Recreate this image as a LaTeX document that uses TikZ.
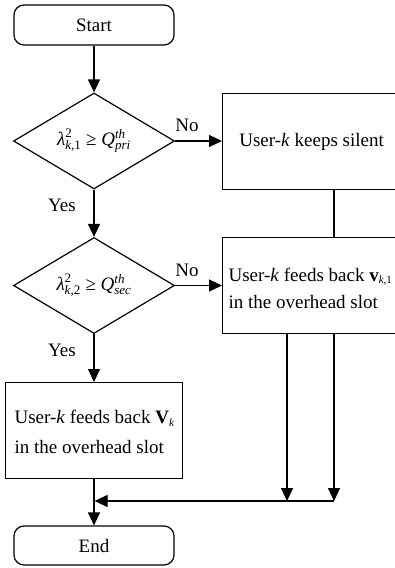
\documentclass[tikz,border=0pt]{standalone}
\usepackage{fontspec}
\setmainfont{Liberation Serif}
\usetikzlibrary{shapes.geometric,arrows.meta}
\newcommand{\smsz}{\fontsize{13}{13}\selectfont}
\newcommand{\tinsz}{\fontsize{11}{11}\selectfont}
\begin{document}
\begin{tikzpicture}[x=1pt,y=-1pt,
  line width=1.2pt,
  every node/.style={font=\fontsize{19}{22}\selectfont},
  arr/.style={-{Triangle[length=13pt,width=12pt]}},
  term/.style={draw, rounded corners=10pt, minimum width=160pt, minimum height=40pt, inner sep=0pt},
  dec/.style={draw, diamond, minimum width=161pt, minimum height=96pt, inner sep=0pt},
  proc/.style={draw, rectangle, inner sep=0pt, anchor=north west},
  lbl/.style={inner sep=0pt}]
\useasboundingbox (0,0) rectangle (395,568);
\clip (0,0) rectangle (395,568);

% nodes
\node[term] (start) at (94,25) {Start};
\node[dec] (d1) at (94,141) {};
\node[lbl] (t1) at (d1.center) {$\mbox{\itshape λ}^{\mbox{\smsz 2}}_{\mbox{\smsz\itshape k\upshape ,1}}$ ≥ $\mbox{\itshape Q}^{\mbox{\smsz\itshape th}}_{\mbox{\smsz\itshape pri}}$};
\node[dec] (d2) at (94,285.5) {};
\node[lbl] (t2) at (d2.center) {$\mbox{\itshape λ}^{\mbox{\smsz 2}}_{\mbox{\smsz\itshape k\upshape ,2}}$ ≥ $\mbox{\itshape Q}^{\mbox{\smsz\itshape th}}_{\mbox{\smsz\itshape sec}}$};

\node[proc, minimum width=178pt, minimum height=96pt] (b1) at (222,93) {};
\node[lbl] (t3) at (b1.center) {User-\textit{k} keeps silent};
\node[proc, minimum width=178pt, minimum height=96pt] (b2) at (222,237) {};
\node[lbl, anchor=west, align=left, font=\fontsize{19}{27}\selectfont] (t4) at (228,288) {User-\textit{k} feeds back \textbf{v}$_{\mbox{\tinsz\itshape k\upshape ,1}}$\\in the overhead slot};
\node[proc, minimum width=177pt, minimum height=96pt] (b3) at (5,382) {};
\node[lbl, anchor=west, align=left, font=\fontsize{19}{30}\selectfont] (t5) at (14,432) {User-\textit{k} feeds back \textbf{V}$_{\mbox{\tinsz\itshape k}}$\\in the overhead slot};
\node[term, minimum height=39pt] (end) at (94,545.5) {End};

% labels
\node[lbl] (no1) at (187,125) {No};
\node[lbl] (yes1) at (62,205) {Yes};
\node[lbl] (no2) at (187,270) {No};
\node[lbl] (yes2) at (62,350) {Yes};

% helper coordinates
\coordinate (m) at (334,0);
\coordinate (p) at (287,501);
\coordinate (q) at (334,501);
\coordinate (r) at (94,501);

% connectors
\draw[arr] (start) -- (d1);
\draw[arr] (d1.east) -- (d1.east -| b1.west);
\draw[arr] (d1.south) -- (d2.north);
\draw[arr] (d2.east) -- (d2.east -| b2.west);
\draw[arr] (d2.south) -- (b3.north -| d2.south);
\draw (b1.south -| m) -- (b2.north -| m);
\draw[arr] (b2.south -| p) -- (p);
\draw[arr] (b2.south -| q) -- (q);
\draw[arr, shorten >=0.6pt] (q) -- (r);
\draw[arr] (b3.south -| end.north) -- (end.north);
\end{tikzpicture}
\end{document}
